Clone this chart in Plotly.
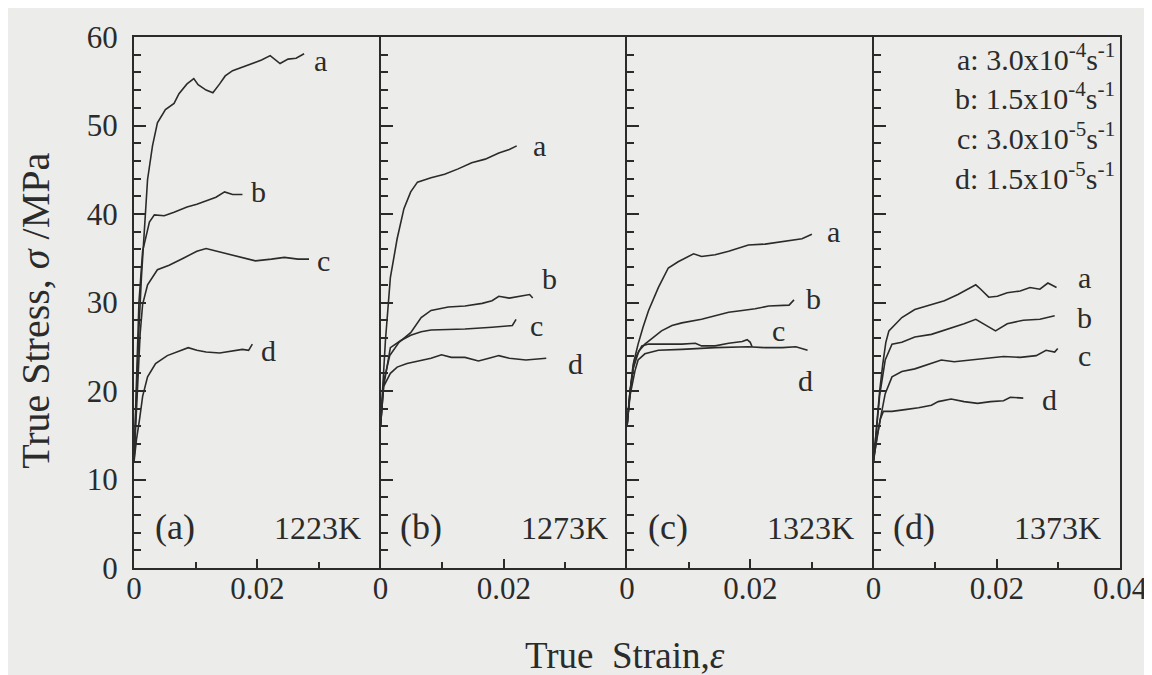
import plotly.graph_objects as go

# ---------------- data (true strain, true stress MPa) ----------------
temps = ["1223K", "1273K", "1323K", "1373K"]
panel_tags = ["(a)", "(b)", "(c)", "(d)"]
curve_names = ["a", "b", "c", "d"]
legend_lines = ["a: 3.0x10<sup>-4</sup>s<sup>-1</sup>", "b: 1.5x10<sup>-4</sup>s<sup>-1</sup>",
                "c: 3.0x10<sup>-5</sup>s<sup>-1</sup>", "d: 1.5x10<sup>-5</sup>s<sup>-1</sup>"]
legend_stress = [57.7, 53.3, 48.8, 44.3]
strain_ticks = [0, 0.02, 0.04]
strain_tick_text = ["0", "0.02", "0.04"]
strain_minor = [0.01, 0.03]

# 1223K
strain_1223_a = [0, 0.0004, 0.0008, 0.0012, 0.0022, 0.0030, 0.0038, 0.0051, 0.0065, 0.0073, 0.0086, 0.0097, 0.0104,
                 0.0117, 0.0128, 0.0139, 0.0148, 0.0160, 0.0176, 0.0192, 0.0207, 0.0221, 0.0237, 0.0250, 0.0263, 0.0276]
stress_1223_a = [12, 20, 27, 32.8, 43.9, 47.7, 50.3, 51.8, 52.5, 53.6, 54.7, 55.3, 54.6,
                 54.0, 53.7, 54.7, 55.6, 56.2, 56.6, 57.0, 57.4, 57.9, 57.0, 57.5, 57.6, 58.1]
strain_1223_b = [0, 0.0004, 0.0008, 0.0014, 0.0025, 0.0033, 0.0049, 0.0065, 0.0086, 0.0102, 0.0117, 0.0133, 0.0147,
                 0.0160, 0.0176]
stress_1223_b = [12, 22, 30, 35.8, 39.1, 39.9, 39.8, 40.2, 40.8, 41.1, 41.5, 41.9, 42.5, 42.2, 42.2]
strain_1223_c = [0, 0.0005, 0.0010, 0.0014, 0.0022, 0.0038, 0.0057, 0.0080, 0.0102, 0.0117, 0.0144, 0.0170, 0.0197,
                 0.0223, 0.0244, 0.0266, 0.0284]
stress_1223_c = [12, 20, 26.5, 29.8, 32.0, 33.7, 34.2, 35.0, 35.8, 36.1, 35.6, 35.2, 34.7, 34.9, 35.1, 34.9, 34.9]
strain_1223_d = [0, 0.0004, 0.0009, 0.0014, 0.0022, 0.0035, 0.0054, 0.0070, 0.0088, 0.0102, 0.0117, 0.0139, 0.0160,
                 0.0176, 0.0186, 0.0192]
stress_1223_d = [12, 14.5, 16.8, 19.4, 21.6, 23.1, 24.0, 24.4, 24.9, 24.6, 24.4, 24.3, 24.5, 24.7, 24.6, 25.3]

# 1273K
strain_1273_a = [0, 0.0003, 0.0008, 0.0016, 0.0027, 0.0038, 0.0049, 0.0060, 0.0082, 0.0104, 0.0126, 0.0148, 0.0170,
                 0.0192, 0.0209, 0.0221]
stress_1273_a = [16, 20, 25.7, 32.8, 37.2, 40.6, 42.5, 43.6, 44.1, 44.5, 45.1, 45.8, 46.2, 46.9, 47.3, 47.7]
strain_1273_b = [0, 0.0005, 0.0015, 0.0030, 0.0049, 0.0066, 0.0082, 0.0110, 0.0137, 0.0165, 0.0181, 0.0192, 0.0209,
                 0.0225, 0.0242, 0.0247]
stress_1273_b = [16, 21, 24, 25.5, 26.6, 28.3, 29.1, 29.5, 29.6, 29.9, 30.2, 30.7, 30.5, 30.7, 30.9, 30.5]
strain_1273_c = [0, 0.0005, 0.0016, 0.0033, 0.0049, 0.0066, 0.0082, 0.0137, 0.0181, 0.0214, 0.0220]
stress_1273_c = [16, 20.5, 24.9, 25.7, 26.3, 26.7, 26.9, 27.0, 27.2, 27.4, 28.1]
strain_1273_d = [0, 0.0005, 0.0016, 0.0027, 0.0043, 0.0066, 0.0082, 0.0099, 0.0115, 0.0137, 0.0159, 0.0176, 0.0192,
                 0.0209, 0.0236, 0.0269]
stress_1273_d = [16, 20.5, 22.0, 22.7, 23.1, 23.5, 23.7, 24.1, 23.8, 23.8, 23.4, 23.7, 24.0, 23.7, 23.5, 23.7]

# 1323K
strain_1323_a = [0, 0.0005, 0.0010, 0.0018, 0.0026, 0.0035, 0.0051, 0.0067, 0.0083, 0.0100, 0.0108, 0.0121, 0.0143,
                 0.0165, 0.0187, 0.0197, 0.0224, 0.0252, 0.0268, 0.0284, 0.0300]
stress_1323_a = [16, 20, 23, 25.3, 27.2, 29.1, 31.7, 33.9, 34.6, 35.2, 35.5, 35.2, 35.4,
                 35.8, 36.3, 36.5, 36.6, 36.9, 37.1, 37.2, 37.7]
strain_1323_b = [0, 0.0005, 0.0010, 0.0019, 0.0029, 0.0040, 0.0056, 0.0073, 0.0089, 0.0121, 0.0143, 0.0165, 0.0187,
                 0.0208, 0.0230, 0.0263, 0.0271]
stress_1323_b = [16, 20, 22.5, 24.5, 25.3, 25.9, 26.8, 27.4, 27.7, 28.1, 28.5, 28.9, 29.1, 29.3, 29.6, 29.7, 30.3]
strain_1323_c = [0, 0.0005, 0.0012, 0.0024, 0.0035, 0.0062, 0.0089, 0.0111, 0.0121, 0.0143, 0.0165, 0.0187, 0.0195,
                 0.0200, 0.0203]
stress_1323_c = [16, 20, 23.5, 25.1, 25.3, 25.3, 25.3, 25.4, 25.1, 25.1, 25.4, 25.6, 25.8, 25.5, 25.0]
strain_1323_d = [0, 0.0005, 0.0013, 0.0018, 0.0029, 0.0051, 0.0089, 0.0116, 0.0143, 0.0197, 0.0224, 0.0252, 0.0274,
                 0.0293]
stress_1323_d = [16, 19.5, 22.3, 23.5, 24.2, 24.6, 24.7, 24.8, 24.9, 25.0, 24.9, 24.9, 25.0, 24.6]

# 1373K
strain_1373_a = [0, 0.0005, 0.0010, 0.0015, 0.0020, 0.0025, 0.0035, 0.0046, 0.0067, 0.0094, 0.0115, 0.0137, 0.0153,
                 0.0166, 0.0174, 0.0187, 0.0201, 0.0217, 0.0238, 0.0254, 0.0270, 0.0283, 0.0297]
stress_1373_a = [12, 16, 20, 23, 25.5, 26.8, 27.5, 28.3, 29.2, 29.8, 30.2, 30.9, 31.5,
                 32.0, 31.5, 30.6, 30.7, 31.1, 31.3, 31.7, 31.5, 32.2, 31.7]
strain_1373_b = [0, 0.0005, 0.0010, 0.0019, 0.0030, 0.0046, 0.0067, 0.0094, 0.0121, 0.0147, 0.0166, 0.0179, 0.0198,
                 0.0217, 0.0243, 0.0270, 0.0294]
stress_1373_b = [12, 16, 19.5, 23.5, 25.3, 25.5, 26.1, 26.4, 27.0, 27.6, 28.1, 27.6, 26.8, 27.6, 28.0, 28.1, 28.5]
strain_1373_c = [0, 0.0006, 0.0014, 0.0019, 0.0030, 0.0046, 0.0067, 0.0094, 0.0110, 0.0131, 0.0158, 0.0184, 0.0211,
                 0.0238, 0.0264, 0.0280, 0.0294, 0.0299]
stress_1373_c = [12, 15, 17.9, 19.7, 21.6, 22.2, 22.5, 23.1, 23.5, 23.3, 23.5, 23.7, 23.9, 23.8, 24.0, 24.6, 24.4, 24.8]
strain_1373_d = [0, 0.0006, 0.0011, 0.0016, 0.0030, 0.0051, 0.0073, 0.0094, 0.0105, 0.0126, 0.0147, 0.0169, 0.0190,
                 0.0211, 0.0222, 0.0243]
stress_1373_d = [12.3, 14.9, 16.8, 17.7, 17.7, 17.9, 18.1, 18.4, 18.8, 19.1, 18.8, 18.6, 18.8, 18.9, 19.3, 19.2]

# curve-letter label positions (strain, stress)
label_pos_1223 = [(0.0303, 57.3), (0.0202, 42.5), (0.0308, 34.8), (0.0218, 24.6)]
label_pos_1273 = [(0.0258, 47.7), (0.0275, 32.7), (0.0253, 27.4), (0.0316, 23.1)]
label_pos_1323 = [(0.0335, 38.0), (0.0302, 30.5), (0.0246, 26.8), (0.0289, 21.2)]
label_pos_1373 = [(0.0342, 32.8), (0.0342, 28.3), (0.0342, 24.0), (0.0286, 19.0)]

panels = [
    [(strain_1223_a, stress_1223_a), (strain_1223_b, stress_1223_b), (strain_1223_c, stress_1223_c), (strain_1223_d, stress_1223_d)],
    [(strain_1273_a, stress_1273_a), (strain_1273_b, stress_1273_b), (strain_1273_c, stress_1273_c), (strain_1273_d, stress_1273_d)],
    [(strain_1323_a, stress_1323_a), (strain_1323_b, stress_1323_b), (strain_1323_c, stress_1323_c), (strain_1323_d, stress_1323_d)],
    [(strain_1373_a, stress_1373_a), (strain_1373_b, stress_1373_b), (strain_1373_c, stress_1373_c), (strain_1373_d, stress_1373_d)],
]
label_positions = [label_pos_1223, label_pos_1273, label_pos_1323, label_pos_1373]

# ---------------- figure ----------------
FONT = "Liberation Serif"
INK = "#2b2b2b"
BG = "#ecedea"
TICK_SIZE = 31

fig = go.Figure()
annotations = []
layout = {}

for i in range(4):
    sfx = "" if i == 0 else str(i + 1)
    xref = "x" + sfx
    yref = "y" + sfx
    for (sx, sy) in panels[i]:
        fig.add_trace(go.Scatter(x=sx, y=sy, mode="lines", xaxis=xref, yaxis=yref,
                                 line=dict(color=INK, width=1.6), showlegend=False,
                                 hoverinfo="skip"))
    for name, (lx, ly) in zip(curve_names, label_positions[i]):
        annotations.append(dict(x=lx, y=ly, xref=xref, yref=yref, text=name, showarrow=False,
                                font=dict(family=FONT, size=30, color=INK), xanchor="center", yanchor="middle"))
    annotations.append(dict(x=0.0066, y=4.6, xref=xref, yref=yref, text=panel_tags[i], showarrow=False,
                            font=dict(family=FONT, size=36, color=INK), xanchor="center", yanchor="middle"))
    annotations.append(dict(x=0.0298, y=4.5, xref=xref, yref=yref, text=temps[i], showarrow=False,
                            font=dict(family=FONT, size=32, color=INK), xanchor="center", yanchor="middle"))

    n_lab = 3 if i == 3 else 2
    layout["xaxis" + sfx] = dict(
        domain=[i * 0.25, (i + 1) * 0.25], range=[0, 0.04], anchor=yref,
        tickmode="array", tickvals=strain_ticks[:n_lab], ticktext=strain_tick_text[:n_lab],
        ticks="inside", ticklen=9, tickwidth=1.5, tickcolor=INK,
        minor=dict(tickmode="array", tickvals=strain_minor, ticks="inside", ticklen=6, tickwidth=1.5, tickcolor=INK),
        showline=True, linecolor=INK, linewidth=2, mirror=True,
        showgrid=False, zeroline=False, fixedrange=True,
        tickfont=dict(family=FONT, size=TICK_SIZE, color=INK),
        ticklabelstandoff=-8,
    )
    ydict = dict(
        range=[0, 60], anchor=xref, dtick=10, tick0=0,
        ticks="inside", ticklen=12, tickwidth=1.5, tickcolor=INK,
        minor=dict(dtick=2, ticks="inside", ticklen=7, tickwidth=1.5, tickcolor=INK),
        showline=True, linecolor=INK, linewidth=2, mirror=(i == 3),
        showgrid=False, zeroline=False, fixedrange=True,
        tickfont=dict(family=FONT, size=31, color=INK),
        showticklabels=(i == 0), ticklabelstandoff=8,
    )
    if i > 0:
        ydict["matches"] = "y"
    layout["yaxis" + sfx] = ydict

# legend text block (panel d)
for txt, ly in zip(legend_lines, legend_stress):
    annotations.append(dict(x=0.0395, y=ly, xref="x4", yref="y4", text=txt,
                            showarrow=False, font=dict(family=FONT, size=30, color=INK),
                            xanchor="right", yanchor="middle"))

# axis titles
annotations.append(dict(x=0.498, y=-0.165, xref="paper", yref="paper", text="True  Strain,<i>ε</i>",
                        showarrow=False, font=dict(family=FONT, size=37, color=INK),
                        xanchor="center", yanchor="middle"))
annotations.append(dict(x=-0.1, y=0.485, xref="paper", yref="paper", text="True Stress, <i>σ</i> /MPa",
                        showarrow=False, textangle=-90, font=dict(family=FONT, size=40, color=INK),
                        xanchor="center", yanchor="middle"))

fig.update_layout(
    width=1152, height=675,
    margin=dict(l=126, r=36, t=23, b=115),
    paper_bgcolor=BG, plot_bgcolor=BG,
    font=dict(family=FONT, size=TICK_SIZE, color=INK),
    annotations=annotations,
    showlegend=False,
    **layout,
)

fig.write_html("out.html")
